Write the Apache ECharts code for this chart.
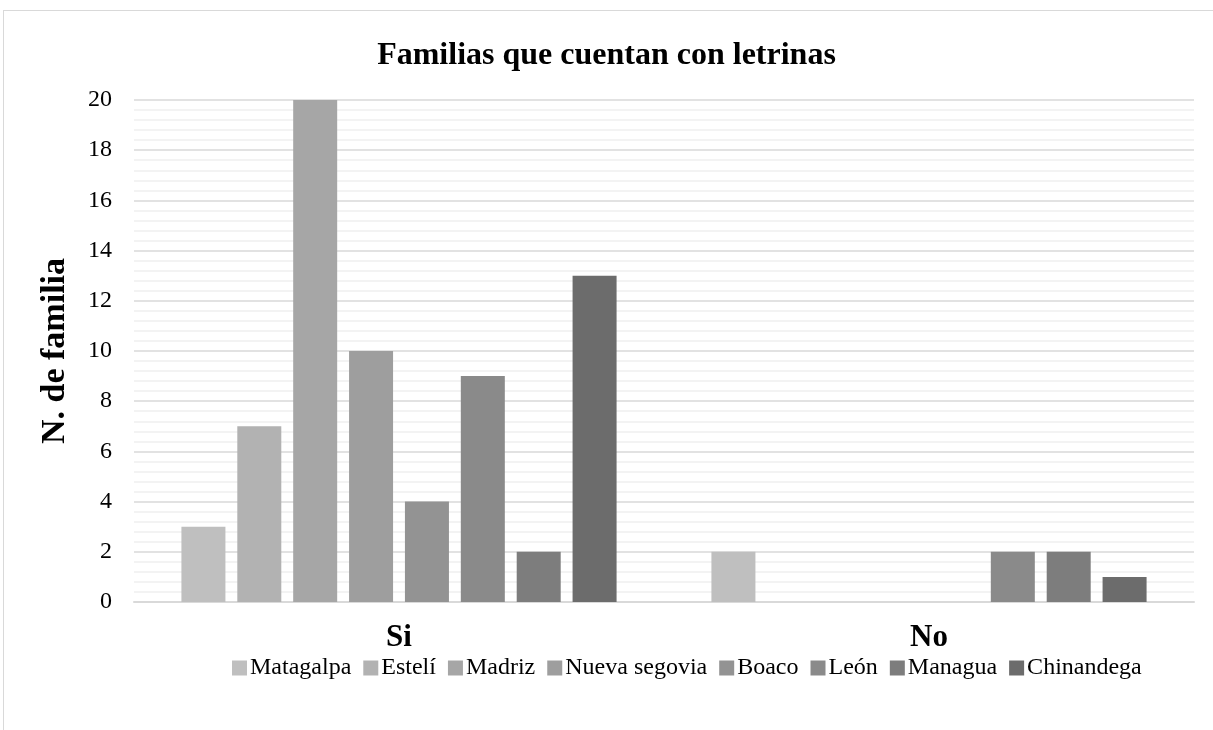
<!DOCTYPE html>
<html>
<head>
<meta charset="utf-8">
<script src="https://cdn.jsdelivr.net/npm/echarts@6/dist/echarts.min.js"></script>
<style>
  html, body { margin: 0; padding: 0; background: #fff; }
  #frame { position: absolute; left: 3px; top: 10px; width: 1220px; height: 730px; border: 1px solid #d9d9d9; box-sizing: border-box; }
  #chart { position: absolute; left: 0; top: 0; width: 1213px; height: 730px; }
</style>
</head>
<body>
<div id="frame"></div>
<div id="chart"></div>
<script>
  // categories on x axis
  var categories = ['Si', 'No']
  // one series per department
  var departments = ['Matagalpa', 'Estelí', 'Madriz', 'Nueva segovia', 'Boaco', 'León', 'Managua', 'Chinandega']
  var matagalpa = [3, 2]
  var esteli = [7, 0]
  var madriz = [20, 0]
  var nuevaSegovia = [10, 0]
  var boaco = [4, 0]
  var leon = [9, 2]
  var managua = [2, 2]
  var chinandega = [13, 1]
  var values = [matagalpa, esteli, madriz, nuevaSegovia, boaco, leon, managua, chinandega]
  var colors = ['#bfbfbf', '#b2b2b2', '#a6a6a6', '#9e9e9e', '#939393', '#8a8a8a', '#7d7d7d', '#6c6c6c']

  var chart = echarts.init(document.getElementById('chart'))
  var font = '"Liberation Serif", "Times New Roman", serif'

  var series = departments.map(function (name, i) {
    return {
      name: name,
      type: 'bar',
      data: values[i],
      barWidth: 44,
      barGap: '27%',
      itemStyle: { color: colors[i] },
      animation: false
    }
  })

  chart.setOption({
    textStyle: { fontFamily: font },
    title: {
      text: 'Familias que cuentan con letrinas',
      left: 'center',
      top: 35,
      textStyle: { fontFamily: font, fontSize: 32, fontWeight: 'bold', color: '#000' }
    },
    grid: {
      left: 134,
      right: 19,
      top: 100,
      bottom: 128
    },
    legend: {
      data: departments,
      bottom: 45,
      left: 227,
      icon: 'rect',
      itemWidth: 15,
      itemHeight: 15,
      itemGap: 12,
      textStyle: { fontFamily: font, fontSize: 24, color: '#000', padding: [0, 0, 0, -2] }
    },
    xAxis: {
      type: 'category',
      data: categories,
      axisTick: { show: false },
      axisLine: { lineStyle: { color: '#d9d9d9', width: 2 } },
      axisLabel: { fontFamily: font, fontSize: 31, fontWeight: 'bold', color: '#000', margin: 20 }
    },
    yAxis: {
      type: 'value',
      min: 0,
      max: 20,
      interval: 2,
      name: 'N. de familia',
      nameLocation: 'middle',
      nameGap: 62,
      nameTextStyle: { fontFamily: font, fontSize: 34, fontWeight: 'bold', color: '#000' },
      axisLine: { show: false },
      axisTick: { show: false },
      axisLabel: { fontFamily: font, fontSize: 24, color: '#000', margin: 22 },
      splitLine: { lineStyle: { color: '#d9d9d9', width: 1.5 } },
      minorTick: { show: false, splitNumber: 5 },
      minorSplitLine: { show: true, lineStyle: { color: '#f0f0f0', width: 1.5 } }
    },
    series: series
  })
</script>
</body>
</html>
